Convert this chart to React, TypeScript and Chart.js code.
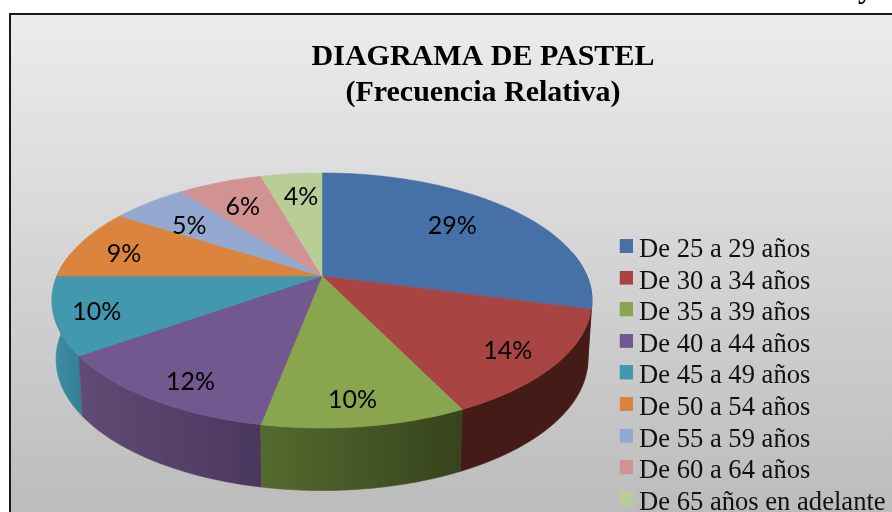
import React, { useEffect, useRef } from "react";
import { Chart, registerables } from "chart.js";

Chart.register(...registerables);

const categories = [
  "De 25 a 29 años",
  "De 30 a 34 años",
  "De 35 a 39 años",
  "De 40 a 44 años",
  "De 45 a 49 años",
  "De 50 a 54 años",
  "De 55 a 59 años",
  "De 60 a 64 años",
  "De 65 años en adelante",
];
const relativeFrequency = [29.1, 13.6, 10.2, 12.15, 9.8, 9.05, 5.4, 6.1, 4.4];
const sliceColors = ["#4571a7", "#a84442", "#89a54e", "#71588f", "#4198af", "#db843d", "#93a9cf", "#d19392", "#b9cd96"];
const wallColorsLeft = ["#2b466a", "#451b18", "#556a2f", "#614b75", "#3f8ea3", "#85522a", "#5c6a82", "#825c5b", "#74805e"];
const wallColorsRight = ["#2b466a", "#451b18", "#37431c", "#4a375e", "#347f94", "#85522a", "#5c6a82", "#825c5b", "#74805e"];
const labelRadius = [0.7, 0.83, 0.846, 0.848, 0.85, 0.8, 0.708, 0.72, 0.75];
const labelAlong = [0.474, 0.527, 0.527, 0.441, 0.48, 0.436, 0.364, 0.46, 0.565];
const titleLines = ["DIAGRAMA DE PASTEL", "(Frecuencia Relativa)"];

const CX = 322, CY = 276, A = 265, B = 122.8, K = 0.192;
const DEPTH = 58, SX = 0.985, SY = 1.03;

const top3d = (t: number, r = 1) => {
  const X = r * Math.cos(t), Y = r * Math.sin(t), d = 1 - K * Y;
  return { x: CX + (A * X) / d, y: CY + (B * Y) / d };
};
const bottom3d = (t: number) => {
  const p = top3d(t);
  return { x: CX + (p.x - CX) * SX, y: CY + (p.y - CY) * SY + DEPTH };
};
const angles = (s: number, e: number) => {
  const n = Math.max(2, Math.ceil(((e - s) * 180) / Math.PI));
  return Array.from({ length: n + 1 }, (_, i) => s + ((e - s) * i) / n);
};

const swatch = (color: string) => {
  const c = document.createElement("canvas");
  c.width = 16;
  c.height = 22;
  const g = c.getContext("2d")!;
  g.fillStyle = color;
  g.fillRect(2, 0, 14, 14);
  return c;
};

const pie3d = {
  id: "pie3d",
  beforeDraw(chart: any) {
    const { ctx, width, height } = chart;
    ctx.save();
    ctx.fillStyle = "#ffffff";
    ctx.fillRect(0, 0, width, height);
    const g = ctx.createLinearGradient(0, 14, 0, height);
    g.addColorStop(0, "#ececec");
    g.addColorStop(1, "#bcbcbc");
    ctx.fillStyle = g;
    ctx.fillRect(10, 14, width, height);
    ctx.strokeStyle = "#1a1a1a";
    ctx.lineWidth = 2;
    ctx.beginPath();
    ctx.moveTo(10, height + 2);
    ctx.lineTo(10, 14);
    ctx.lineTo(width + 2, 14);
    ctx.stroke();
    ctx.fillStyle = "#000";
    ctx.font = "bold 30px 'Liberation Serif'";
    ctx.textBaseline = "alphabetic";
    ctx.textAlign = "left";
    ctx.fillText("y", 858, -2);
    ctx.restore();
  },
  afterLayout(chart: any) {
    const l = chart.legend;
    l.left = 619.7;
    l.right = 892;
    l.top = 231.7;
    l.bottom = 540;
    const t = chart.titleBlock;
    t.left = 74;
    t.right = 892;
  },
  beforeDatasetsDraw(chart: any) {
    const { ctx } = chart;
    const arcs = chart.getDatasetMeta(0).data as any[];
    ctx.save();
    // walls
    const walls: any[] = [];
    arcs.forEach((el, i) => {
      const ts = angles(el.startAngle, el.endAngle).filter((t) => Math.sin(t) > -0.2);
      if (ts.length < 2) return;
      const my = ts.reduce((a, t) => a + Math.sin(t), 0) / ts.length;
      walls.push({ i, ts, my });
    });
    walls.sort((a, b) => a.my - b.my);
    walls.forEach(({ i, ts }) => {
      const tp = ts.map((t: number) => top3d(t));
      const bt = ts.map((t: number) => bottom3d(t)).reverse();
      const pts = [...tp, ...bt];
      const xs = pts.map((p: any) => p.x);
      const g = ctx.createLinearGradient(Math.min(...xs), 0, Math.max(...xs), 0);
      g.addColorStop(0, wallColorsLeft[i]);
      g.addColorStop(1, wallColorsRight[i]);
      ctx.beginPath();
      pts.forEach((p: any, k: number) => (k ? ctx.lineTo(p.x, p.y) : ctx.moveTo(p.x, p.y)));
      ctx.closePath();
      ctx.fillStyle = g;
      ctx.strokeStyle = g;
      ctx.lineWidth = 0.6;
      ctx.fill();
      ctx.stroke();
    });
    // top faces
    arcs.forEach((el) => {
      const c = el.options.backgroundColor;
      ctx.beginPath();
      ctx.moveTo(CX, CY);
      angles(el.startAngle, el.endAngle).forEach((t) => {
        const p = top3d(t);
        ctx.lineTo(p.x, p.y);
      });
      ctx.closePath();
      ctx.fillStyle = c;
      ctx.strokeStyle = c;
      ctx.lineWidth = 0.6;
      ctx.fill();
      ctx.stroke();
    });
    // value labels
    ctx.fillStyle = "#000";
    ctx.font = "25px Lato";
    ctx.textAlign = "center";
    ctx.textBaseline = "middle";
    arcs.forEach((el, i) => {
      const t = el.startAngle + (el.endAngle - el.startAngle) * labelAlong[i];
      const p = top3d(t, labelRadius[i]);
      ctx.fillText(`${Math.round(relativeFrequency[i])}%`, p.x, p.y + 1);
    });
    ctx.restore();
    return false;
  },
};

export default function App() {
  const ref = useRef<HTMLCanvasElement>(null);
  useEffect(() => {
    const chart = new Chart(ref.current!, {
      type: "pie",
      data: {
        labels: categories,
        datasets: [{ data: relativeFrequency, backgroundColor: sliceColors, borderWidth: 0 }],
      },
      options: {
        responsive: false,
        animation: false,
        plugins: {
          tooltip: { enabled: false },
          title: {
            display: true,
            text: titleLines,
            color: "#000",
            font: { family: "'Liberation Serif'", weight: "bold", size: 30, lineHeight: 1.19 },
            padding: { top: 39.85, bottom: 0 },
          },
          legend: {
            position: "right",
            align: "start",
            labels: {
              color: "#111",
              font: { family: "'Liberation Serif'", size: 26.6 },
              padding: 5,
              usePointStyle: true,
              pointStyleWidth: 1,
              generateLabels(c: any) {
                return (Chart as any).overrides.pie.plugins.legend.labels
                  .generateLabels(c)
                  .map((it: any) => ({ ...it, pointStyle: swatch(it.fillStyle) }));
              },
            },
          },
        },
      },
      plugins: [pie3d],
    } as any);
    return () => chart.destroy();
  }, []);
  return (
    <canvas
      ref={ref}
      width={892}
      height={512}
      style={{ position: "fixed", left: 0, top: 0, display: "block", width: 892, height: 512 }}
    />
  );
}
